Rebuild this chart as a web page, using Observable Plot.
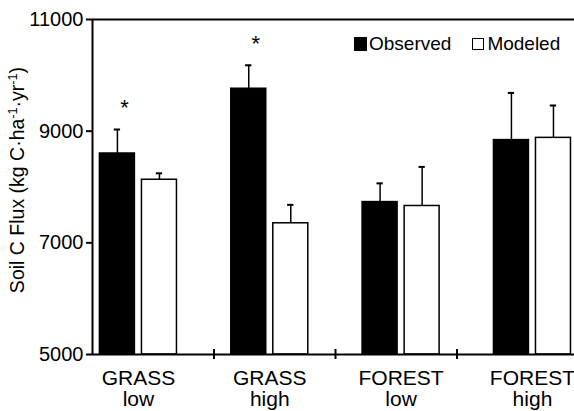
<!DOCTYPE html>
<html><head><meta charset="utf-8">
<script src="https://cdn.jsdelivr.net/npm/d3@7"></script>
<script src="https://cdn.jsdelivr.net/npm/@observablehq/plot@0.6"></script>
<style>
body{margin:0;background:#fff;font-family:"Liberation Sans",Arial,sans-serif;}
#wrap{position:relative;width:574px;height:411px;}
#legend{position:absolute;left:354px;top:33px;height:22px;font-size:19px;line-height:22px;display:flex;align-items:center;color:#000;}
.sw{display:inline-block;box-sizing:border-box;border:1.5px solid #000;}
</style></head><body><div id="wrap"><div id="legend"></div></div>
<script>
const groups = ["GRASS\nlow", "GRASS\nhigh", "FOREST\nlow", "FOREST\nhigh"];
const series = ["Observed", "Modeled"];
const observed = [8600, 9760, 7730, 8840];
const observedErr = [430, 420, 335, 845];
const modeled = [8130, 7350, 7660, 8880];
const modeledErr = [115, 330, 700, 580];
const significant = [true, true, false, false];
const yTicks = [5000, 7000, 9000, 11000];
const yLabel = "Soil C Flux (kg C·ha-1·yr-1)";

// layout (in x-scale units; axis spans 0..4 with group dividers at 1,2,3)
const first = 0.378, step = 1.081, off = 0.173, half = 0.144, cap = 0.026;
const rows = [];
groups.forEach((g, i) => {
  const c = first + step * i;
  rows.push({group: g, series: series[0], value: observed[i], err: observedErr[i], x: c - off, sig: significant[i]});
  rows.push({group: g, series: series[1], value: modeled[i], err: modeledErr[i], x: c + off, sig: false});
});
const labels = groups.map((g, i) => ({group: g, x: first + step * i}));

const plot = Plot.plot({
  width: 574, height: 411, marginLeft: 92, marginRight: 0, marginTop: 19, marginBottom: 57,
  style: {fontFamily: "'Liberation Sans', Arial, sans-serif", fontSize: "20px", color: "#000", background: "#fff", overflow: "visible"},
  x: {domain: [0, 4], range: [92, 578], axis: null},
  y: {domain: [5000, 11000], axis: null},
  color: {domain: series, range: ["#000", "#fff"]},
  marks: [
    Plot.rect(rows, {x1: d => d.x - half, x2: d => d.x + half, y1: 5000, y2: "value", fill: "series", stroke: "#000", strokeWidth: 1.5}),
    Plot.ruleX(rows, {x: "x", y1: "value", y2: d => d.value + d.err, stroke: "#000", strokeWidth: 1.5}),
    Plot.ruleY(rows, {x1: d => d.x - cap, x2: d => d.x + cap, y: d => d.value + d.err, stroke: "#000", strokeWidth: 2}),
    Plot.text(rows.filter(d => d.sig), {x: "x", y: d => d.value + d.err, text: () => "*", dx: 7, dy: -14, lineAnchor: "bottom", fontSize: 22}),
    Plot.ruleY([11000], {stroke: "#000", strokeWidth: 2}),
    Plot.ruleY([5000], {stroke: "#000", strokeWidth: 2}),
    Plot.ruleX([0], {stroke: "#000", strokeWidth: 2}),
    Plot.ruleX([1, 2, 3], {y1: 5000, y2: 5000, insetTop: -5, insetBottom: -5, stroke: "#000", strokeWidth: 2}),
    Plot.axisY({ticks: yTicks, tickSize: 6, tickPadding: 3, tickFormat: d => String(d), label: null, fontSize: 20, strokeWidth: 2}),
    Plot.text(labels, {x: "x", y: 5000, text: "group", lineAnchor: "top", dy: 16, lineHeight: 1, fontSize: 21}),
    Plot.text([yLabel], {frameAnchor: "left", textAnchor: "middle", dx: -75, dy: -7, rotate: -90, fontSize: 19.5})
  ]
});

d3.select(plot).selectAll("text").filter(function() { return this.textContent === yLabel; }).each(function() {
  const t = d3.select(this);
  t.text(null);
  t.append("tspan").text("Soil C Flux (kg C·ha");
  t.append("tspan").attr("baseline-shift", "super").attr("font-size", "65%").text("-1");
  t.append("tspan").text("·yr");
  t.append("tspan").attr("baseline-shift", "super").attr("font-size", "65%").text("-1");
  t.append("tspan").text(")");
});

const wrap = document.getElementById("wrap");
wrap.insertBefore(plot, wrap.firstChild);
const legend = d3.select("#legend");
series.forEach((s, i) => {
  legend.append("span").attr("class", "sw")
    .style("width", i ? "12px" : "13px").style("height", i ? "12px" : "14px")
    .style("background", i ? "#fff" : "#000")
    .style("margin-left", i ? "21px" : "0").style("margin-right", i ? "3px" : "2px");
  legend.append("span").text(s);
});
</script></body></html>
